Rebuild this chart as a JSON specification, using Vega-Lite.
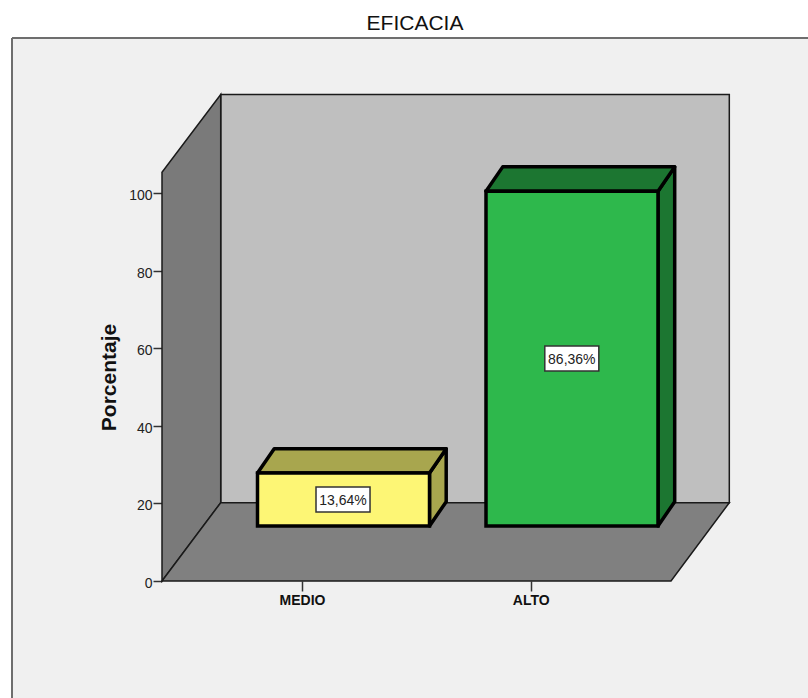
{
  "$schema": "https://vega.github.io/schema/vega-lite/v6.json",
  "width": 796,
  "height": 660,
  "autosize": "none",
  "padding": {"left": 12, "top": 38, "right": 0, "bottom": 0},
  "background": "#ffffff",
  "view": {"fill": "#f0f0f0", "stroke": null},
  "title": {"text": "EFICACIA", "font": "Liberation Sans", "fontSize": 21, "fontWeight": "normal", "color": "#111111", "anchor": "middle", "dx": 5, "offset": 3},
  "resolve": {"axis": {"x": "independent", "y": "independent"}},
  "datasets": {
    "porcentajes": [
      {"categoria": "MEDIO", "parte": "MEDIO frontal", "porcentaje": 13.64, "x": 0.8054, "x2": 1.5575},
      {"categoria": "ALTO", "parte": "ALTO frontal", "porcentaje": 86.36, "x": 1.8045, "x2": 2.5566}
    ],
    "tapas": [
      {"parte": "MEDIO tapa", "y": 27.83, "x": 0.8054, "x2": 1.5575},
      {"parte": "MEDIO tapa", "y": 34.1, "x": 0.8784, "x2": 1.6305},
      {"parte": "ALTO tapa", "y": 100.55, "x": 1.8045, "x2": 2.5566},
      {"parte": "ALTO tapa", "y": 106.82, "x": 1.8775, "x2": 2.6296}
    ],
    "laterales": [
      {"parte": "MEDIO tapa", "x": 1.5575, "y": 14.19, "y2": 27.83},
      {"parte": "MEDIO tapa", "x": 1.6305, "y": 20.46, "y2": 34.1},
      {"parte": "ALTO tapa", "x": 2.5566, "y": 14.19, "y2": 100.55},
      {"parte": "ALTO tapa", "x": 2.6296, "y": 20.46, "y2": 106.82}
    ],
    "etiquetas": [
      {"texto": "13,64%", "xc": 1.1793, "yc": 21.02, "x": 1.0612, "x2": 1.2974, "y": 17.8, "y2": 24.24},
      {"texto": "86,36%", "xc": 2.1797, "yc": 57.39, "x": 2.0616, "x2": 2.2978, "y": 54.17, "y2": 60.61}
    ]
  },
  "data": {"name": "porcentajes"},
  "encoding": {
    "x": {
      "field": "x",
      "type": "quantitative",
      "title": null,
      "scale": {"domain": [-0.2681, 3.2125], "nice": false, "zero": false},
      "axis": null
    },
    "y": {
      "field": "y",
      "type": "quantitative",
      "title": null,
      "scale": {"domain": [-30.18, 140.06], "nice": false, "zero": false},
      "axis": null
    }
  },
  "layer": [
    {
      "data": {"values": [{"x": 0.6445, "x2": 2.8684, "y": 20.2, "y2": 125.5}]},
      "mark": {"type": "rect", "fill": "#bfbfbf", "stroke": "#1a1a1a", "strokeWidth": 1.5},
      "encoding": {
        "x": {
          "field": "x",
          "type": "quantitative",
          "title": null,
          "axis": {
            "values": [1, 2],
            "labelExpr": "datum.value === 1 ? 'MEDIO' : 'ALTO'",
            "offset": -117,
            "domain": false,
            "grid": false,
            "tickSize": 10,
            "tickColor": "#333333",
            "tickWidth": 1.5,
            "labelFont": "Liberation Sans",
            "labelFontSize": 14,
            "labelFontWeight": "bold",
            "labelColor": "#111111",
            "labelPadding": 2
          }
        },
        "y": {
          "field": "y",
          "type": "quantitative",
          "title": "Porcentaje",
          "axis": {
            "values": [0, 20, 40, 60, 80, 100],
            "offset": -150,
            "domain": false,
            "grid": false,
            "tickSize": 9,
            "tickColor": "#333333",
            "tickWidth": 1.5,
            "labelFont": "Liberation Sans",
            "labelFontSize": 14,
            "labelColor": "#222222",
            "labelPadding": 1,
            "labelOffset": 2.5,
            "titleFont": "Liberation Sans",
            "titleFontSize": 21,
            "titleFontWeight": "bold",
            "titleColor": "#111111",
            "titleX": -43,
            "titleY": 339
          }
        },
        "x2": {"field": "x2"},
        "y2": {"field": "y2"}
      }
    },
    {
      "data": {"values": [{"x": 0.3878, "y": 0, "y2": 105.4}, {"x": 0.6445, "y": 20.2, "y2": 125.5}]},
      "mark": {"type": "area", "fill": "#7a7a7a", "stroke": "#1a1a1a", "strokeWidth": 1.5},
      "encoding": {"y2": {"field": "y2"}}
    },
    {
      "data": {"values": [{"y": 0, "x": 0.3878, "x2": 2.6135}, {"y": 20.2, "x": 0.6445, "x2": 2.8684}]},
      "mark": {"type": "area", "orient": "horizontal", "fill": "#808080", "stroke": "#1a1a1a", "strokeWidth": 1.5},
      "encoding": {"x2": {"field": "x2"}}
    },
    {
      "data": {"name": "laterales"},
      "mark": {"type": "area", "stroke": "#000000", "strokeWidth": 3.5, "strokeJoin": "round"},
      "encoding": {
        "y2": {"field": "y2"},
        "detail": {"field": "parte"},
        "color": {
          "field": "parte",
          "type": "nominal",
          "legend": null,
          "scale": {
            "domain": ["MEDIO frontal", "MEDIO tapa", "ALTO frontal", "ALTO tapa"],
            "range": ["#fdf675", "#a8a64e", "#2eb84c", "#1c7631"]
          }
        }
      }
    },
    {
      "data": {"name": "tapas"},
      "mark": {"type": "area", "orient": "horizontal", "stroke": "#000000", "strokeWidth": 3.5, "strokeJoin": "round"},
      "encoding": {
        "x2": {"field": "x2"},
        "detail": {"field": "parte"},
        "color": {"field": "parte", "type": "nominal", "legend": null}
      }
    },
    {
      "mark": {"type": "rect", "stroke": "#000000", "strokeWidth": 3.5, "strokeJoin": "miter", "yOffset": -55, "y2Offset": -55},
      "encoding": {
        "x2": {"field": "x2"},
        "y": {"field": "porcentaje", "type": "quantitative", "axis": null},
        "y2": {"datum": 0},
        "color": {"field": "parte", "type": "nominal", "legend": null}
      }
    },
    {
      "data": {"name": "etiquetas"},
      "mark": {"type": "rect", "fill": "#ffffff", "stroke": "#333333", "strokeWidth": 1.5},
      "encoding": {"x2": {"field": "x2"}, "y2": {"field": "y2"}}
    },
    {
      "data": {"name": "etiquetas"},
      "mark": {"type": "text", "font": "Liberation Sans", "fontSize": 14, "color": "#222222", "align": "center", "baseline": "middle", "dy": 1},
      "encoding": {
        "x": {"field": "xc", "type": "quantitative", "axis": null},
        "y": {"field": "yc", "type": "quantitative", "axis": null},
        "text": {"field": "texto"}
      }
    },
    {
      "data": {"values": [{"x": -0.2681}]},
      "mark": {"type": "rule", "stroke": "#6e6e6e", "strokeWidth": 2},
      "encoding": {"y": {"value": 0}, "y2": {"value": 660}}
    },
    {
      "data": {"values": [{"y": 140.06}]},
      "mark": {"type": "rule", "stroke": "#6e6e6e", "strokeWidth": 2},
      "encoding": {"x": {"value": 0}, "x2": {"value": 796}}
    }
  ]
}
